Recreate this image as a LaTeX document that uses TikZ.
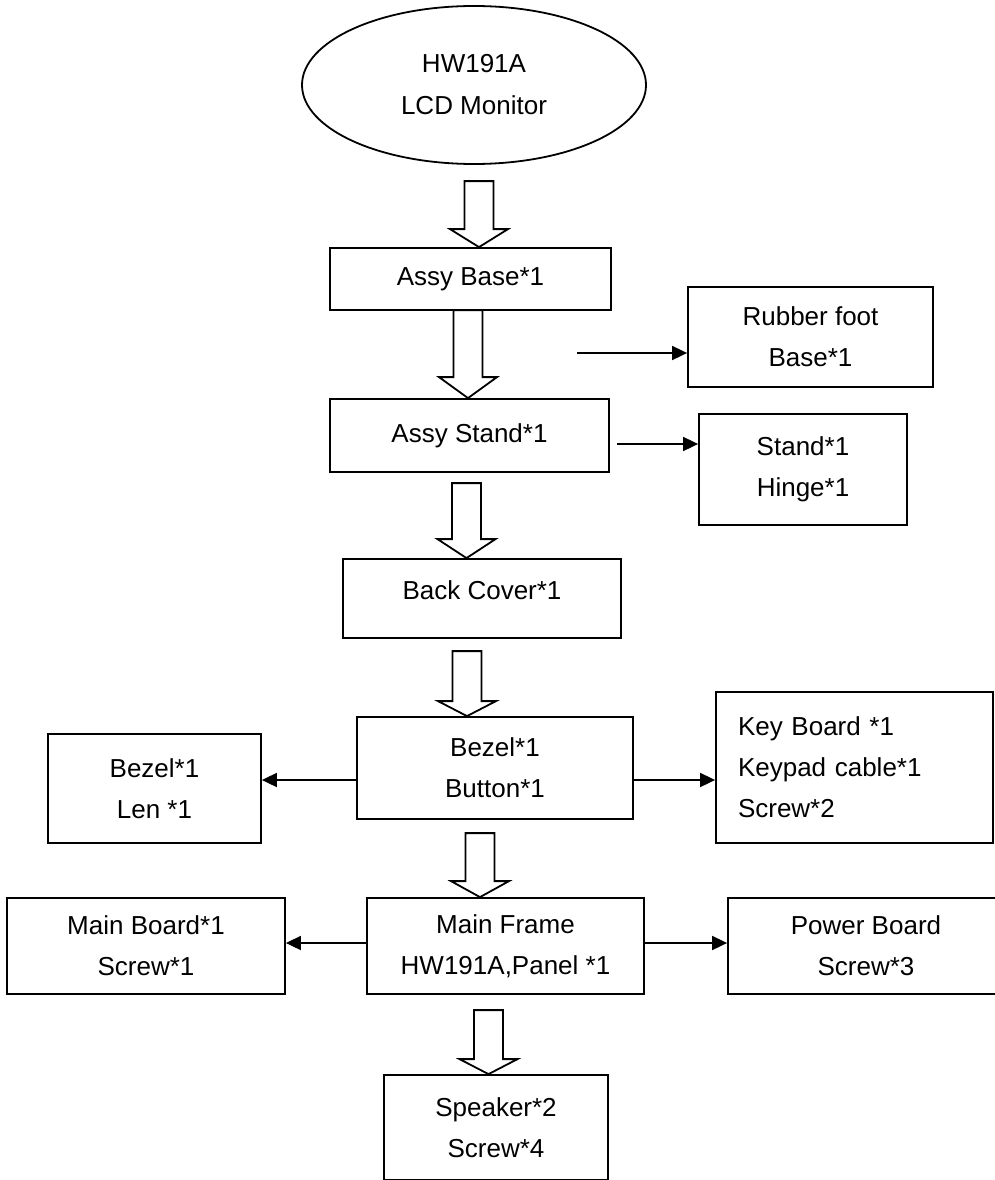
\documentclass[tikz,border=0pt]{standalone}
\usepackage{fontspec}
\setmainfont{Liberation Sans}
\usetikzlibrary{arrows.meta,calc,shapes.geometric}
\tikzset{
  unitbox/.style={draw, line width=1.8pt, align=center, inner sep=0pt, font=\fontsize{26}{41}\selectfont},
  unitoval/.style={draw, ellipse, line width=1.8pt, align=center, inner sep=0pt, font=\fontsize{26}{42}\selectfont},
  linkarrow/.style={-{Triangle[length=15pt,width=14pt]}, line width=1.8pt},
  hollowarrow/.style={draw, line width=1.8pt, line join=miter, fill=white}
}
\newcommand{\hollowdown}[4]{%
  \draw[hollowarrow] ([xshift=#2]#1.north) -- ++(29,-#3) -- ++(-14.5,0) -- ++(0,-#4)
    -- ++(-29,0) -- ++(0,#4) -- ++(-14.5,0) -- cycle;}

\begin{document}
\begin{tikzpicture}[x=1pt, y=-1pt]
\useasboundingbox (0,0) rectangle (995,1180);
\clip (0,0) rectangle (995,1180);
\node[unitoval, minimum width=344pt, minimum height=158pt] (monitor) at (474,85) {HW191A\\LCD Monitor};
\node[unitbox, minimum width=281pt, minimum height=62pt] (base) at (470.5,279) {Assy Base*1};
\node[unitbox, minimum width=245pt, minimum height=100pt] (rubber) at (810.5,337) {Rubber foot\\Base*1};
\node[unitbox, minimum width=279pt, minimum height=73pt] (stand) at (469.5,435.5) {Assy Stand*1};
\node[unitbox, minimum width=208pt, minimum height=111pt] (hinge) at (803,469.5) {Stand*1\\Hinge*1};
\node[unitbox, minimum width=278pt, minimum height=79pt, text depth=17.6pt] (back) at (482,598.5) {Back Cover*1};
\node[unitbox, minimum width=276pt, minimum height=102pt] (bezel) at (495,768) {Bezel*1\\Button*1};
\node[unitbox, minimum width=213pt, minimum height=109pt] (lens) at (154.5,788.5) {Bezel*1\\Len *1};
\node[unitbox, align=left, text width=233pt, minimum width=277pt, minimum height=151pt] (keyb) at (854.5,767.5) {Key Board *1\\Keypad cable*1\\Screw*2};
\node[unitbox, minimum width=277pt, minimum height=96pt] (frame) at (505.5,946) {Main Frame\\HW191A,Panel *1};
\node[unitbox, minimum width=278pt, minimum height=96pt] (mainb) at (146,946) {Main Board*1\\Screw*1};
\node[unitbox, minimum width=276pt, minimum height=96pt] (power) at (866,946) {Power Board\\Screw*3};
\node[unitbox, minimum width=224pt, minimum height=105pt] (speaker) at (496,1127.5) {Speaker*2\\Screw*4};
\coordinate (rubberfrom) at (577,353);
\coordinate (hingefrom) at (617,444);
\coordinate (lensfrom) at ([yshift=-12pt]bezel.west);
\coordinate (keybfrom) at ([yshift=-12pt]bezel.east);
\coordinate (mainbfrom) at ([yshift=3pt]frame.west);
\coordinate (powerfrom) at ([yshift=3pt]frame.east);
\draw[linkarrow] (rubberfrom) -- (rubberfrom -| rubber.west);
\draw[linkarrow] (hingefrom) -- (hingefrom -| hinge.west);
\draw[linkarrow] (lensfrom) -- (lensfrom -| lens.east);
\draw[linkarrow] (keybfrom) -- (keybfrom -| keyb.west);
\draw[linkarrow] (mainbfrom) -- (mainbfrom -| mainb.east);
\draw[linkarrow] (powerfrom) -- (powerfrom -| power.west);
\hollowdown{base}{8.5}{18}{48}
\hollowdown{stand}{-1.5}{21}{67}
\hollowdown{back}{-15.5}{19}{56}
\hollowdown{bezel}{-28}{15}{50}
\hollowdown{frame}{-25.5}{16}{48}
\hollowdown{speaker}{-7.5}{15}{49}
\end{tikzpicture}
\end{document}
